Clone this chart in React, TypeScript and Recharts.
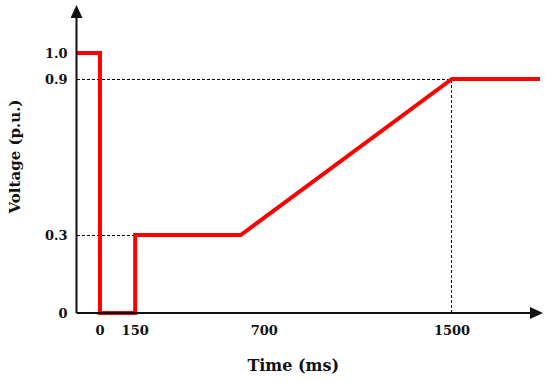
import React from 'react';
import { LineChart, Line, XAxis, YAxis, ReferenceLine } from 'recharts';

// voltage profile (p.u.) against time (ms)
const timeMs = [-100, 0, 0, 150, 150, 600, 1500, 1875];
const voltagePu = [1.0, 1.0, 0, 0, 0.3, 0.3, 0.9, 0.9];

const xTicks = [0, 150, 700, 1500];
const yTicks = [0, 0.3, 0.9, 1.0];

const data = timeMs.map((t, i) => ({ t, v: voltagePu[i] }));

const FONT = '"DejaVu Serif", serif';
const INK = '#111111';

const tickStyle = { fill: INK, fontSize: 13, fontWeight: 'bold', fontFamily: FONT };

function XTitle(props: any) {
  const vb = props.viewBox;
  return (
    <text
      x={vb.x + vb.width / 2 - 15}
      y={vb.y + 52}
      textAnchor="middle"
      dominantBaseline="central"
      fill={INK}
      fontSize={16}
      fontWeight="bold"
      fontFamily={FONT}
    >
      Time (ms)
    </text>
  );
}

function YTitle(props: any) {
  const vb = props.viewBox;
  const cx = vb.x + 15;
  const cy = vb.y + vb.height / 2 - 7;
  return (
    <text
      x={cx}
      y={cy}
      transform={`rotate(-90, ${cx}, ${cy})`}
      textAnchor="middle"
      dominantBaseline="central"
      fill={INK}
      fontSize={15}
      fontWeight="bold"
      fontFamily={FONT}
    >
      Voltage (p.u.)
    </text>
  );
}

const dashProps = {
  stroke: '#000',
  strokeWidth: 1,
  strokeDasharray: '3 2',
  shapeRendering: 'crispEdges',
};

export default function App() {
  return (
    <div style={{ position: 'absolute', left: 0, top: 0, width: 550, height: 382, background: '#fff' }}>
      <LineChart width={550} height={382} data={data} margin={{ top: 14, right: 10, left: 0, bottom: 0 }}>
        <defs>
          <marker id="arrowX" markerWidth={14} markerHeight={12} refX={10} refY={6} orient="auto" markerUnits="userSpaceOnUse">
            <path d="M0,0 L13,6 L0,12 Z" fill={INK} />
          </marker>
          <marker id="arrowY" markerWidth={14} markerHeight={12} refX={4} refY={6} orient="auto-start-reverse" markerUnits="userSpaceOnUse">
            <path d="M0,0 L13,6 L0,12 Z" fill={INK} />
          </marker>
        </defs>
        <XAxis
          dataKey="t"
          type="number"
          domain={[-100, 1875]}
          ticks={xTicks}
          height={69}
          tickSize={0}
          tickMargin={13}
          tickLine={false}
          stroke={INK}
          axisLine={{ stroke: INK, strokeWidth: 2, markerEnd: 'url(#arrowX)' }}
          tick={tickStyle}
          label={<XTitle />}
        />
        <YAxis
          type="number"
          domain={[0, 1.15]}
          ticks={yTicks}
          width={76.5}
          tickSize={0}
          tickMargin={9}
          tickLine={false}
          stroke={INK}
          axisLine={{ stroke: INK, strokeWidth: 2, markerStart: 'url(#arrowY)' }}
          tick={tickStyle}
          tickFormatter={(v: number) => (v === 0 ? '0' : v.toFixed(1))}
          label={<YTitle />}
        />
        <ReferenceLine segment={[{ x: -100, y: 0.9 }, { x: 1500, y: 0.9 }]} {...dashProps} />
        <ReferenceLine segment={[{ x: 1500, y: 0 }, { x: 1500, y: 0.9 }]} {...dashProps} />
        <ReferenceLine segment={[{ x: -100, y: 0.3 }, { x: 150, y: 0.3 }]} {...dashProps} />
        <Line
          type="linear"
          dataKey="v"
          stroke="#ff0000"
          strokeWidth={4}
          dot={false}
          activeDot={false}
          isAnimationActive={false}
        />
      </LineChart>
    </div>
  );
}
